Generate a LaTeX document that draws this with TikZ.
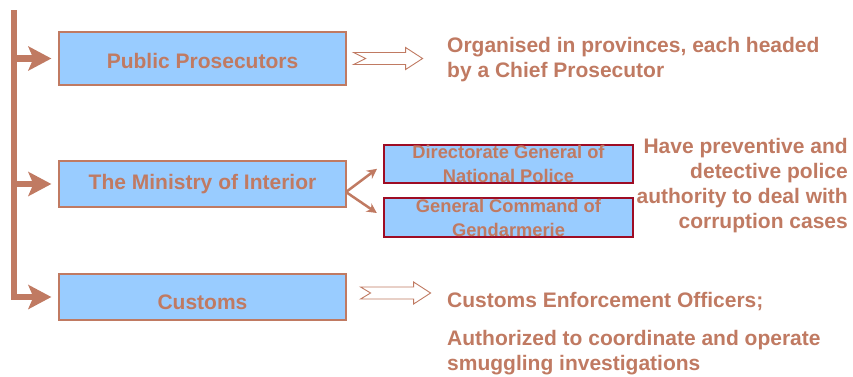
\documentclass[tikz,border=0pt]{standalone}
\usepackage{fontspec}
\setmainfont{Liberation Sans}
\usetikzlibrary{arrows.meta}
\definecolor{rust}{RGB}{192,122,98}
\definecolor{sky}{RGB}{153,204,255}
\definecolor{wine}{RGB}{158,12,36}

\begin{document}
\begin{tikzpicture}[x=1pt,y=-1pt,
    mainbox/.style={draw=rust,line width=1.2pt,fill=sky,minimum width=287pt,inner sep=0pt,text=rust,font=\fontsize{21}{25}\selectfont\bfseries},
    subbox/.style={draw=wine,line width=1.2pt,fill=sky,minimum width=249pt,inner sep=0pt},
    note/.style={text=rust,inner sep=0pt,font=\fontsize{21}{25}\selectfont\bfseries},
    subnote/.style={note,align=center,font=\fontsize{18.3}{24}\selectfont\bfseries},
    trunk/.style={rust,line width=6.5pt,-{Stealth[length=23pt,width=24pt,inset=5pt]},shorten >=7pt},
    fork/.style={rust,line width=2.5pt,-{Stealth[length=10pt,width=10pt]},shorten >=8pt},
    hollow/.style={draw=rust,fill=white,line width=0.9pt,line join=miter}]
    \useasboundingbox (0,0) rectangle (853,376);

    \node[mainbox,minimum height=53pt,text height=19pt,text depth=0pt] (pp) at (202.5,58.5) {Public Prosecutors};
    \node[mainbox,minimum height=46pt] (moi) at (202.5,184) {The Ministry of Interior};
    \node[mainbox,minimum height=46pt,text height=24pt,text depth=0pt] (cus) at (202.5,297) {Customs};

    \coordinate (top) at (14,10);
    \draw[trunk] (top) |- (cus.west);
    \draw[trunk] (top |- pp.west) -- (pp.west);
    \draw[trunk] (top |- moi.west) -- (moi.west);

    \node[subbox,minimum height=38pt] (dgnp) at (508.5,164) {};
    \node[subbox,minimum height=39pt] (gcg) at (508.5,217.5) {};
    \node[subnote] (dgnptxt) at (dgnp) {Directorate General of\\National Police};
    \node[subnote] (gcgtxt) at (gcg) {General Command of\\Gendarmerie};

    \coordinate (split) at (346,192);
    \draw[fork] (split) -- (dgnp.west);
    \draw[fork] (split) -- (gcg.west);

    \draw[hollow] (pp.east) ++(7,-6) -- ++(52,0) -- ++(0,-5) -- ++(17,11) -- ++(-17,11) -- ++(0,-5) -- ++(-52,0) -- ++(12,-6) -- cycle;
    \draw[hollow] (cus.east) ++(14,-10) -- ++(53,0) -- ++(0,-5) -- ++(17,11) -- ++(-17,11) -- ++(0,-5) -- ++(-53,0) -- ++(10,-6) -- cycle;

    \node[note,anchor=north west,align=left] (ppnote) at (447,37) {Organised in provinces, each headed\\by a Chief Prosecutor};
    \node[note,anchor=north east,align=right] (moinote) at (848,138) {Have preventive and\\detective police\\authority to deal with\\corruption cases};
    \node[note,anchor=north west] (cusnote) at (447,292) {Customs Enforcement Officers;};
    \node[note,anchor=north west,align=left] (cusdetail) at (447,330) {Authorized to coordinate and operate\\smuggling investigations};
\end{tikzpicture}
\end{document}
